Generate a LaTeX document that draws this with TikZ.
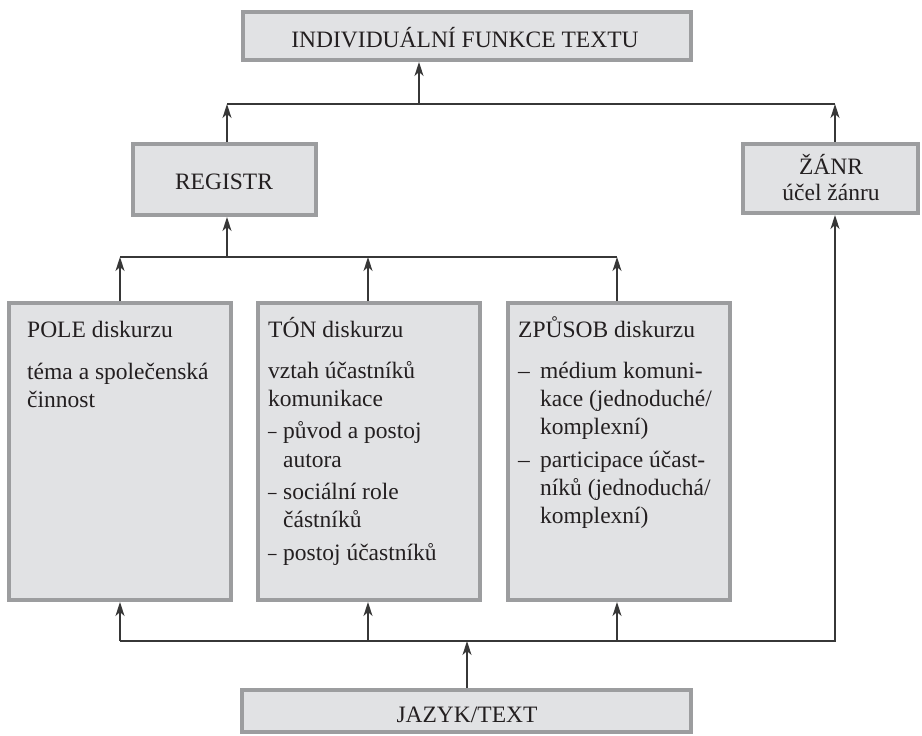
\documentclass[tikz,border=0pt]{standalone}
\usepackage{fontspec}
\setmainfont{Liberation Serif}
\usetikzlibrary{arrows.meta}
\definecolor{boxfill}{RGB}{225,226,228}
\definecolor{boxedge}{RGB}{156,157,159}
\definecolor{wire}{RGB}{55,55,55}
\definecolor{ink}{RGB}{35,31,32}
\newcommand{\itemdash}{\scalebox{0.72}[1]{–}}
\begin{document}
\begin{tikzpicture}[x=1pt,y=-1pt,
  panel/.style={draw=boxedge, fill=boxfill, line width=4pt, rectangle, inner sep=0pt},
  ctext/.style={inner sep=0pt, anchor=base, text=ink, font=\fontsize{23.5}{28}\selectfont},
  ltext/.style={ctext, anchor=base west},
  bus/.style={draw=wire, line width=1.3pt},
  arr/.style={bus, -{Stealth[length=14pt,width=9pt,inset=4pt]}}]
\useasboundingbox (0,0) rectangle (922,736);

% boxes
\node[panel, minimum width=448pt, minimum height=48pt] (top)  at (467,36) {};
\node[panel, minimum width=183pt, minimum height=71pt] (reg)  at (224.5,179.5) {};
\node[panel, minimum width=175pt, minimum height=69pt] (gen)  at (830.5,178.5) {};
\node[panel, minimum width=222pt, minimum height=297pt] (pole) at (120,451.5) {};
\node[panel, minimum width=222pt, minimum height=297pt] (ton)  at (369,451.5) {};
\node[panel, minimum width=222pt, minimum height=297pt] (mode) at (619,451.5) {};
\node[panel, minimum width=449pt, minimum height=42pt] (base) at (466.5,711) {};

% centred labels
\node[ctext] (topT)  at (465,47)  {INDIVIDUÁLNÍ FUNKCE TEXTU};
\node[ctext] (regT)  at (224,189) {REGISTR};
\node[ctext] (genT1) at (831,174) {ŽÁNR};
\node[ctext] (genT2) at (831,200) {účel žánru};
\node[ctext] (baseT) at (467,722) {JAZYK/TEXT};

% field of discourse
\node[ltext] (p1) at (27,337) {POLE diskurzu};
\node[ltext] (p2) at (27,379) {téma a společenská};
\node[ltext] (p3) at (27,407) {činnost};

% tenor of discourse
\node[ltext] (t1)  at (268,337) {TÓN diskurzu};
\node[ltext] (t2)  at (268,378) {vztah účastníků};
\node[ltext] (t3)  at (268,406) {komunikace};
\node[ltext] (t4d) at (268,438) {\itemdash};
\node[ltext] (t4)  at (283,438) {původ a postoj};
\node[ltext] (t5)  at (283,467) {autora};
\node[ltext] (t6d) at (268,499) {\itemdash};
\node[ltext] (t6)  at (283,499) {sociální role};
\node[ltext] (t7)  at (283,527) {částníků};
\node[ltext] (t8d) at (268,560) {\itemdash};
\node[ltext] (t8)  at (283,560) {postoj účastníků};

% mode of discourse
\node[ltext] (m1)  at (518,337) {ZPŮSOB diskurzu};
\node[ltext] (m2d) at (518,378) {–};
\node[ltext] (m2)  at (540,378) {médium komuni-};
\node[ltext] (m3)  at (540,406) {kace (jednoduché/};
\node[ltext] (m4)  at (540,434) {komplexní)};
\node[ltext] (m5d) at (518,467) {–};
\node[ltext] (m5)  at (540,467) {participace účast-};
\node[ltext] (m6)  at (540,495) {níků (jednoduchá/};
\node[ltext] (m7)  at (540,523) {komplexní)};

% upper bus
\coordinate (uReg) at (227,104);
\coordinate (uTop) at (419,104);
\coordinate (uGen) at (835,104);
\draw[bus] (uReg) -- (uGen);
\draw[arr] (uReg |- reg.north) -- (uReg);
\draw[arr] (uGen |- gen.north) -- (uGen);
\draw[arr] (uTop) -- (uTop |- top.south);

% middle bus
\coordinate (mPole) at (120,257);
\coordinate (mReg)  at (227,257);
\coordinate (mTon)  at (368,257);
\coordinate (mMode) at (617,257);
\draw[bus] (mPole) -- (mMode);
\draw[arr] (mPole |- pole.north) -- (mPole);
\draw[arr] (mTon |- ton.north) -- (mTon);
\draw[arr] (mMode |- mode.north) -- (mMode);
\draw[arr] (mReg) -- (mReg |- reg.south);

% lower bus
\coordinate (lPole) at (120,641);
\coordinate (lTon)  at (368,641);
\coordinate (lBase) at (467,641);
\coordinate (lMode) at (617,641);
\coordinate (lGen)  at (835,641);
\draw[arr] (lPole) -- (lGen) -- (lGen |- gen.south);
\draw[arr] (lPole) -- (lPole |- pole.south);
\draw[arr] (lTon) -- (lTon |- ton.south);
\draw[arr] (lMode) -- (lMode |- mode.south);
\draw[arr] (lBase |- base.north) -- (lBase);
\end{tikzpicture}
\end{document}
